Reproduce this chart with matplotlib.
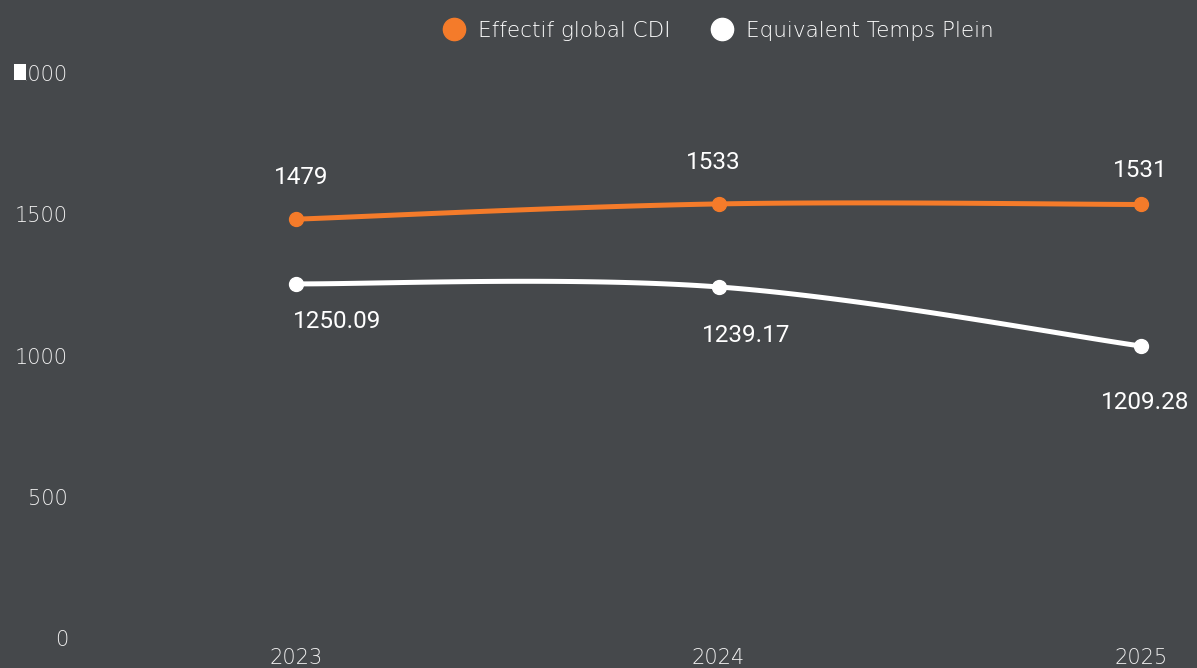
import numpy as np
import matplotlib
matplotlib.use("Agg")
import matplotlib.pyplot as plt
import matplotlib.patches as patches
from matplotlib.lines import Line2D

years = [2023, 2024, 2025]
cdi_values = [1479, 1533, 1531]
etp_values = [1250.09, 1239.17, 1030]  # last point sits at ~1030 on the chart
cdi_labels = ["1479", "1533", "1531"]
etp_labels = ["1250.09", "1239.17", "1209.28"]
y_ticks = [0, 500, 1000, 1500, 2000]

BG = "#45484b"
ORANGE = "#f47b2a"
WHITE = "#ffffff"


def smooth(xs, ys, tension=0.35, n=60):
    # cardinal spline through the points, like the web chart's curve
    xs = np.asarray(xs, float)
    ys = np.asarray(ys, float)
    px, py = [], []
    for i in range(len(xs) - 1):
        x0, y0 = xs[max(i - 1, 0)], ys[max(i - 1, 0)]
        x1, y1 = xs[i], ys[i]
        x2, y2 = xs[i + 1], ys[i + 1]
        x3, y3 = xs[min(i + 2, len(xs) - 1)], ys[min(i + 2, len(ys) - 1)]
        c1x, c1y = x1 + (x2 - x0) * tension / 2, y1 + (y2 - y0) * tension / 2
        c2x, c2y = x2 - (x3 - x1) * tension / 2, y2 - (y3 - y1) * tension / 2
        t = np.linspace(0, 1, n)
        bx = (1-t)**3*x1 + 3*(1-t)**2*t*c1x + 3*(1-t)*t**2*c2x + t**3*x2
        by = (1-t)**3*y1 + 3*(1-t)**2*t*c1y + 3*(1-t)*t**2*c2y + t**3*y2
        px.extend(bx)
        py.extend(by)
    return np.array(px), np.array(py)


fig = plt.figure(figsize=(11.97, 6.68), dpi=100)
fig.patch.set_facecolor(BG)
ax = fig.add_axes([0, 0, 1, 1])
ax.set_facecolor(BG)
ax.axis("off")

# pixel mapping: 2023 -> x=296, 2025 -> x=1141 ; 0 -> y=637, 2000 -> y=72
ux = (1141 - 296) / 2.0
uy = (637 - 72) / 2000.0
ax.set_xlim(2023 - 296 / ux, 2023 + (1197 - 296) / ux)
ax.set_ylim(-(668 - 637) / uy, 2000 + 72 / uy)

tick_font = dict(family=["DejaVu Sans"], fontweight="light", color="#f0f0f0", fontsize=15)
label_font = dict(family=["Roboto", "DejaVu Sans"], color=WHITE, fontsize=17.5)

for v in y_ticks:
    ax.text(2023 - (296 - 68) / ux, v - 3 / uy, str(v), ha="right", va="center", **tick_font)
# white block hiding the first digit of 2000
ax.add_patch(patches.Rectangle((2023 - (296 - 14) / ux, 2000 - 8 / uy), 12 / ux, 16 / uy,
                               facecolor=WHITE, edgecolor="none", zorder=5))
ax.add_patch(patches.Rectangle((2023 - (296 - 8) / ux, 2000 - 14 / uy), 18 / ux, 26 / uy,
                               facecolor=BG, edgecolor="none", zorder=4))

for yr in years:
    ax.text(yr, -73, str(yr), ha="center", va="center", **tick_font)

sx, sy = smooth(years, cdi_values)
ax.plot(sx, sy, color=ORANGE, lw=3.6, solid_capstyle="round", zorder=3)
ax.plot(years, cdi_values, "o", color=ORANGE, ms=10, zorder=4)
sx, sy = smooth(years, etp_values)
ax.plot(sx, sy, color=WHITE, lw=3.6, solid_capstyle="round", zorder=3)
ax.plot(years, etp_values, "o", color=WHITE, ms=10, zorder=4)

cdi_offsets = [(5, 42), (-5, 41), (-1, 34)]
etp_offsets = [(41, -38), (28, -49), (4, -56)]
for yr, v, lab, (dx, dy) in zip(years, cdi_values, cdi_labels, cdi_offsets):
    ax.text(yr + dx / ux, v + dy / uy, lab, ha="center", va="center", **label_font)
for yr, v, lab, (dx, dy) in zip(years, etp_values, etp_labels, etp_offsets):
    ax.text(yr + dx / ux, v + dy / uy, lab, ha="center", va="center", **label_font)

handles = [
    Line2D([], [], marker="o", ls="none", color=ORANGE, ms=16, label="Effectif global CDI"),
    Line2D([], [], marker="o", ls="none", color=WHITE, ms=16, label="Equivalent Temps Plein"),
]
leg = fig.legend(handles=handles, loc="center", bbox_to_anchor=(713 / 1197, 1 - 31 / 668),
                 ncol=2, frameon=False, handletextpad=0.1, columnspacing=1.4,
                 prop={"family": ["DejaVu Sans"], "weight": "light", "size": 15.5})
for t in leg.get_texts():
    t.set_color("#ffffff")

fig.savefig("out.png", dpi=100, facecolor=BG)
